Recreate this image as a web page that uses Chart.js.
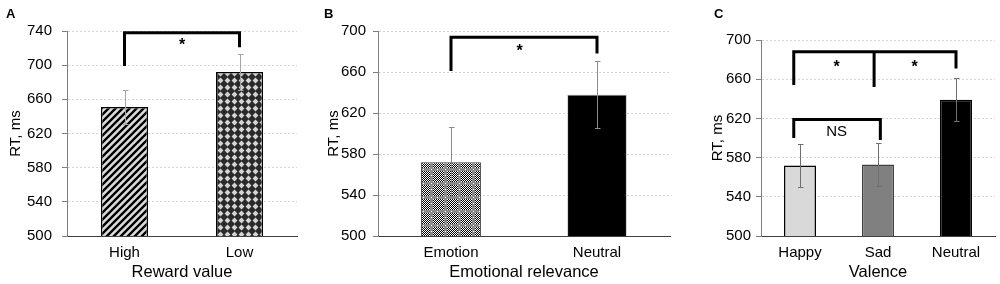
<!DOCTYPE html>
<html>
<head>
<meta charset="utf-8">
<script src="https://cdn.jsdelivr.net/npm/chart.js@4.4.0/dist/chart.umd.min.js"></script>
<style>
    body { margin: 0; background: #fff; }
    #wrap { position: relative; width: 1000px; height: 284px; overflow: hidden; font-family: 'Liberation Sans', Arial, sans-serif; }
    .panel { position: absolute; top: 0; height: 284px; }
    .tag { position: absolute; top: 7px; font-weight: bold; font-size: 13px; line-height: 13px; color: #000; }
</style>
</head>
<body>
<div id="wrap">
    <div class="panel" style="left:0;width:300px"><canvas id="chartA"></canvas></div>
    <div class="panel" style="left:318px;width:354px"><canvas id="chartB"></canvas></div>
    <div class="panel" style="left:702px;width:298px"><canvas id="chartC"></canvas></div>
    <div class="tag" style="left:6px">A</div>
    <div class="tag" style="left:324px">B</div>
    <div class="tag" style="left:714px">C</div>
</div>
<script>
// 데이터
const catsA = ['High', 'Low'];
const rtA = [651, 692];
const semA = [20, 21];
const yTicksA = [500, 540, 580, 620, 660, 700, 740];

const catsB = ['Emotion', 'Neutral'];
const rtB = [572, 638];
const semB = [34, 33];
const yTicksB = [500, 540, 580, 620, 660, 700];

const catsC = ['Happy', 'Sad', 'Neutral'];
const rtC = [572, 573, 639];
const semC = [22, 22, 22];
const yTicksC = [500, 540, 580, 620, 660, 700];

// 유의성 표시 (x = 카테고리 인덱스, y = ms)
const bracketsA = [{ xs: [0, 1], top: 738, ends: [699, 721] }];
const marksA = [{ x: 0.5, y: 726, text: '*' }];
const bracketsB = [{ xs: [0, 1], top: 694, ends: [661, 678] }];
const marksB = [{ x: 0.47, y: 683, text: '*' }];
const bracketsC = [
    { xs: [-0.08, 0.95, 2.0], top: 688, ends: [654, 652, 671] },
    { xs: [-0.08, 1.03], top: 619, ends: [600, 598] }
];
const marksC = [
    { x: 0.47, y: 675, text: '*' },
    { x: 1.47, y: 675, text: '*' },
    { x: 0.47, y: 606, text: 'NS' }
];

const FONT = "'Liberation Sans', Arial, sans-serif";
Chart.defaults.font.family = FONT;
Chart.defaults.color = '#000';

// 패턴
function tile(size, draw) {
    const c = document.createElement('canvas');
    c.width = c.height = size;
    const g = c.getContext('2d');
    draw(g, size);
    return g.createPattern(c, 'repeat');
}

const hatch = tile(7, (g, s) => {
    g.fillStyle = '#dcdcdc';
    g.fillRect(0, 0, s, s);
    g.strokeStyle = '#000';
    g.lineWidth = 2.4;
    g.beginPath();
    g.moveTo(-1, 1); g.lineTo(1, -1);
    g.moveTo(0, s); g.lineTo(s, 0);
    g.moveTo(s - 1, s + 1); g.lineTo(s + 1, s - 1);
    g.stroke();
});

const diamonds = tile(7, (g, s) => {
    g.fillStyle = '#2a2a2a';
    g.fillRect(0, 0, s, s);
    g.fillStyle = '#d4d4d4';
    g.beginPath();
    g.moveTo(3.5, 0.6); g.lineTo(6.4, 3.5); g.lineTo(3.5, 6.4); g.lineTo(0.6, 3.5);
    g.closePath();
    g.fill();
});

const speckle = tile(14, (g, s) => {
    for (let x = 0; x < s; x++) {
        for (let y = 0; y < s; y++) {
            g.fillStyle = (x + y) % 2 ? '#000' : '#fff';
            g.fillRect(x, y, 1, 1);
        }
    }
    g.fillStyle = '#8a8a8a';
    g.fillRect(0, 0, s, 3);
    g.fillRect(0, 0, 3, s);
    g.fillStyle = '#fff';
    g.fillRect(1, 1, 1, 1);
    g.fillRect(1, 7, 1, 1);
    g.fillRect(7, 1, 1, 1);
});

// 오차 막대
const errorBars = {
    id: 'errorBars',
    afterDatasetsDraw(chart, args, o) {
        const meta = chart.getDatasetMeta(0);
        const ys = chart.scales.y;
        const ctx = chart.ctx;
        const vals = chart.data.datasets[0].data;
        ctx.save();
        ctx.strokeStyle = o.color;
        ctx.lineWidth = 1;
        meta.data.forEach((bar, i) => {
            const x = Math.round(bar.x) + 0.5;
            const t = Math.round(ys.getPixelForValue(vals[i] + o.errors[i])) + 0.5;
            const b = Math.round(ys.getPixelForValue(vals[i] - o.errors[i])) + 0.5;
            ctx.beginPath();
            ctx.moveTo(x, t); ctx.lineTo(x, b);
            ctx.moveTo(x - 2.5, t); ctx.lineTo(x + 3, t);
            ctx.moveTo(x - 2.5, b); ctx.lineTo(x + 3, b);
            ctx.stroke();
        });
        ctx.restore();
    }
};

// 유의성 괄호
const brackets = {
    id: 'brackets',
    afterDraw(chart, args, o) {
        const xs = chart.scales.x, ys = chart.scales.y, ctx = chart.ctx;
        ctx.save();
        ctx.strokeStyle = '#000';
        ctx.lineWidth = 3;
        ctx.lineCap = 'butt';
        o.items.forEach(br => {
            const top = ys.getPixelForValue(br.top);
            const px = br.xs.map(v => xs.getPixelForValue(v));
            ctx.beginPath();
            ctx.moveTo(px[0] - 1.5, top);
            ctx.lineTo(px[px.length - 1] + 1.5, top);
            px.forEach((x, i) => {
                ctx.moveTo(x, top);
                ctx.lineTo(x, ys.getPixelForValue(br.ends[i]));
            });
            ctx.stroke();
        });
        ctx.fillStyle = '#000';
        ctx.textAlign = 'center';
        ctx.textBaseline = 'middle';
        o.marks.forEach(m => {
            ctx.font = m.text === '*' ? 'bold 16px ' + FONT : '15px ' + FONT;
            const dy = m.text === '*' ? 3 : 0;
            ctx.fillText(m.text, xs.getPixelForValue(m.x), ys.getPixelForValue(m.y) + dy);
        });
        ctx.restore();
    }
};

function makeChart(id, cfg) {
    const lo = cfg.ticks[0];
    new Chart(document.getElementById(id), {
        type: 'bar',
        data: {
            labels: cfg.labels,
            datasets: [{
                data: cfg.values,
                backgroundColor: cfg.fill,
                borderColor: cfg.border,
                borderWidth: cfg.borderWidth,
                barPercentage: 0.41,
                categoryPercentage: 1
            }]
        },
        options: {
            responsive: true,
            maintainAspectRatio: false,
            animation: false,
            layout: { padding: { top: cfg.top, right: cfg.right, left: 0, bottom: 0 } },
            plugins: {
                legend: { display: false },
                tooltip: { enabled: false },
                errorBars: { errors: cfg.errors, color: cfg.errColor },
                brackets: { items: cfg.brackets, marks: cfg.marks }
            },
            scales: {
                x: {
                    offset: true,
                    grid: { display: false, drawTicks: false },
                    border: { display: true, color: '#404040', width: 1 },
                    ticks: { font: { size: 15 }, padding: 8, color: '#000' },
                    title: { display: true, text: cfg.xTitle, color: '#000', font: { size: 16.5 }, padding: { top: 0, bottom: 2 } },
                    afterFit: s => { s.height = 48; }
                },
                y: {
                    min: lo,
                    max: cfg.ticks[cfg.ticks.length - 1],
                    ticks: { stepSize: cfg.ticks[1] - cfg.ticks[0], font: { size: 15 }, padding: cfg.tickPad, color: '#000' },
                    grid: {
                        color: c => (c.tick && c.tick.value === lo) ? 'rgba(0,0,0,0)' : '#d4d4d4',
                        tickColor: '#7f7f7f',
                        tickLength: 5,
                        lineWidth: 1
                    },
                    border: { color: '#7f7f7f', width: 1, dash: [2, 2] },
                    title: { display: true, text: 'RT, ms', color: '#000', font: { size: 15 }, padding: { top: 7, bottom: 0 } },
                    afterFit: s => { s.width = cfg.yWidth; }
                }
            }
        },
        plugins: [errorBars, brackets]
    });
}

makeChart('chartA', {
    labels: catsA, values: rtA, errors: semA, ticks: yTicksA,
    fill: [hatch, diamonds], border: ['#000', '#000'], borderWidth: 1.5,
    errColor: '#a6a6a6', brackets: bracketsA, marks: marksA,
    xTitle: 'Reward value', top: 31, right: 3, yWidth: 67, tickPad: 10
});

makeChart('chartB', {
    labels: catsB, values: rtB, errors: semB, ticks: yTicksB,
    fill: [speckle, '#000'], border: ['#404040', '#d0d0d0'], borderWidth: 1,
    errColor: '#8c8c8c', brackets: bracketsB, marks: marksB,
    xTitle: 'Emotional relevance', top: 31, right: 2, yWidth: 60, tickPad: 7
});

makeChart('chartC', {
    labels: catsC, values: rtC, errors: semC, ticks: yTicksC,
    fill: ['#d9d9d9', '#808080', '#000'], border: ['#000', '#404040', '#000'], borderWidth: 1.5,
    errColor: '#6e6e6e', brackets: bracketsC, marks: marksC,
    xTitle: 'Valence', top: 40, right: 5, yWidth: 59, tickPad: 5
});
</script>
</body>
</html>
